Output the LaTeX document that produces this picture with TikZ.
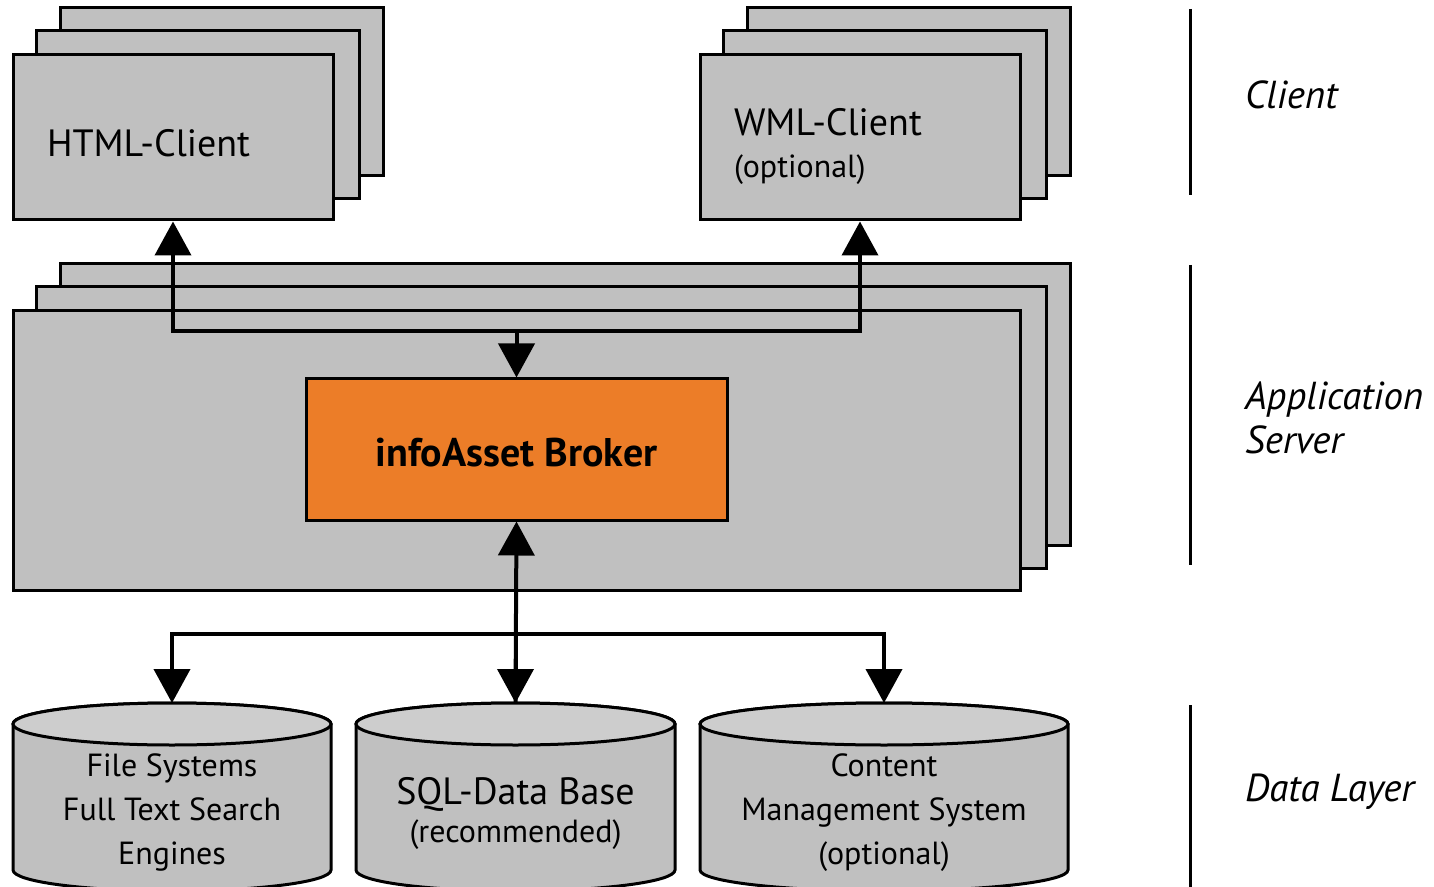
\documentclass[tikz,border=0pt]{standalone}
\usepackage{fontspec}
\setmainfont{PT Sans}
\usepackage{xcolor}
\usetikzlibrary{arrows.meta, backgrounds}

\definecolor{boxgray}{HTML}{C0C0C0}
\definecolor{topgray}{HTML}{CDCDCD}
\definecolor{brokerorange}{HTML}{EC7D28}

% stacked copies behind a box
\newcommand{\stackbehind}[1]{
    \begin{pgfonlayer}{background}
    \foreach \d in {2,1}
        \draw[box] ([shift={(\d*24.5,-\d*23)}]#1.south west) rectangle ([shift={(\d*24.5,-\d*23)}]#1.north east);
    \end{pgfonlayer}
}
% data cylinder: centre x, half width (px)
\newcommand{\dbcyl}[2]{
    \draw[cyl] (#1-#2,724) -- (#1-#2,870) arc[start angle=180, end angle=360, x radius=#2*0.5pt, y radius=10.5pt]
        -- (#1+#2,724) arc[start angle=0, end angle=180, x radius=#2*0.5pt, y radius=10.5pt] -- cycle;
    \draw[cyl, fill=topgray] (#1,724) ellipse[x radius=#2*0.5pt, y radius=10.5pt];
}
\newcommand{\smalltext}{\fontsize{16}{20}\selectfont}

\begin{document}
\begin{tikzpicture}[
    x=0.5pt, y=-0.5pt,
    >={Triangle[width=18pt,length=17pt]},
    box/.style={draw, line width=1.5pt, fill=boxgray},
    client/.style={box, minimum width=160pt, minimum height=82.5pt, inner xsep=17pt, text width=126pt, align=left,
        text height=19pt, font=\fontsize{19}{22}\selectfont},
    cyl/.style={draw, line width=1.5pt, fill=boxgray},
    dbtext/.style={align=center, font=\fontsize{16}{22}\selectfont},
    layer/.style={anchor=west, align=left, font=\fontsize{19.5}{22}\selectfont\itshape},
    arr/.style={->, line width=2pt},
    sep/.style={line width=1.5pt}
]
    \useasboundingbox (0,0) rectangle (1434,887);

    % Client tier
    \node (html) [client, at={(173,137.5)}] {HTML-Client};
    \node (wml) [client, at={(860,137.5)}, text height=23pt] {WML-Client\\[-1pt]{\smalltext(optional)}};
    \stackbehind{html}
    \stackbehind{wml}

    % Application server tier
    \node (server) [box, minimum width=503.5pt, minimum height=139.5pt, at={(516.5,450.5)}] {};
    \stackbehind{server}
    \node (broker) [box, fill=brokerorange, minimum width=210.5pt, minimum height=70.5pt, at={(516.5,449.5)},
        text height=17.5pt, font=\fontsize{20}{24}\selectfont\bfseries] {infoAsset Broker};

    % Data tier
    \dbcyl{172}{159}
    \dbcyl{515.5}{159.5}
    \dbcyl{884}{184}
    \node (fsdb) [dbtext] at (172,812) {File Systems\\Full Text Search\\Engines};
    \node (sqldb) [dbtext] at (515.5,813) {\fontsize{19}{22}\selectfont SQL-Data Base\\[-3pt]{\smalltext(recommended)}};
    \node (cmsdb) [dbtext] at (884,813) {Content\\Management System\\{\smalltext(optional)}};
    \coordinate (fstop) at (172,703);
    \coordinate (sqltop) at (515.5,703);
    \coordinate (cmstop) at (884,703);

    % Arrows
    \coordinate (hub) at (516.5,331);
    \coordinate (bus) at (515.5,634);
    \draw[arr] (hub) -| (html.south);
    \draw[arr] (hub) -| (wml.south);
    \draw[arr] (hub) -- (broker.north);
    \draw[arr] (sqltop) -- (broker.south);
    \draw[arr] (bus) -- (sqltop);
    \draw[arr] (bus) -| (fstop);
    \draw[arr] (bus) -| (cmstop);

    % Layers
    \draw[sep] (1190,9) -- (1190,195);
    \draw[sep] (1190,265) -- (1190,565);
    \draw[sep] (1190,705) -- (1190,887);
    \node (clientlayer) [layer] at (1238,95) {Client};
    \node (serverlayer) [layer] at (1238,418) {Application\\Server};
    \node (datalayer) [layer] at (1238,792) {Data Layer};
\end{tikzpicture}
\end{document}
